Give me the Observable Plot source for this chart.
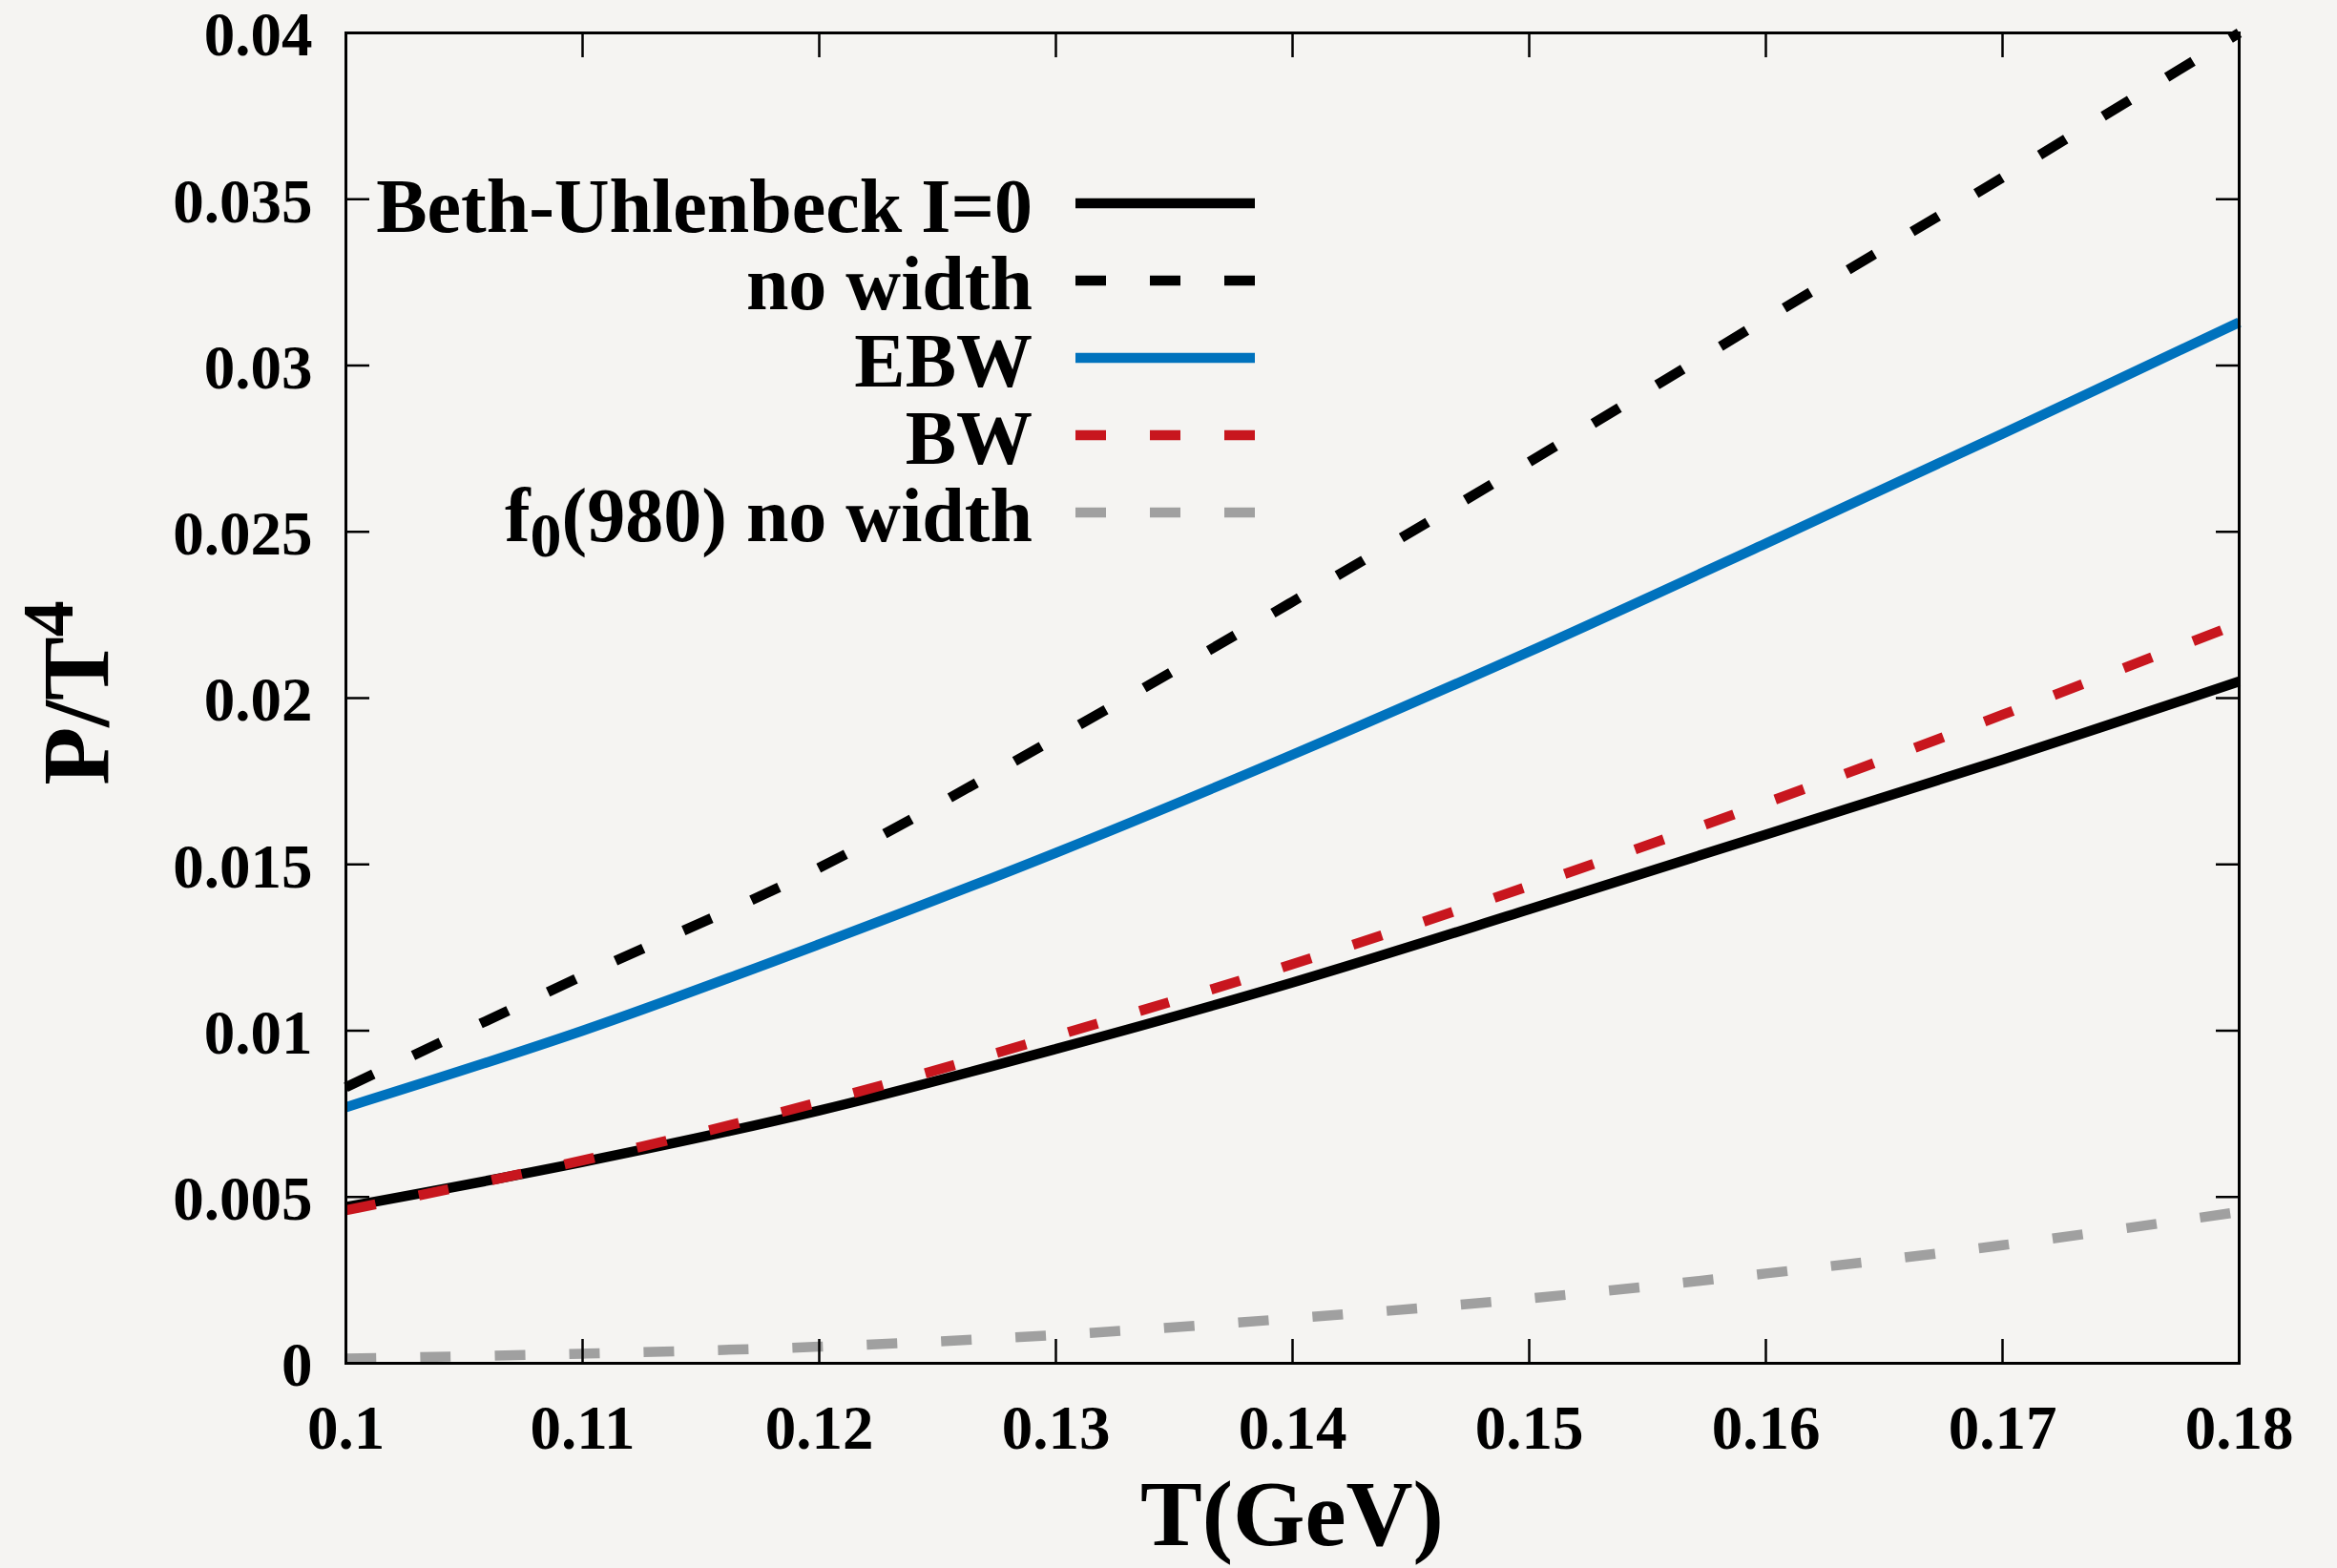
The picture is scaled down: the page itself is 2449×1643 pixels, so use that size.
<!DOCTYPE html>
<html>
<head>
<meta charset="utf-8">
<script src="https://cdn.jsdelivr.net/npm/d3@7"></script>
<script src="https://cdn.jsdelivr.net/npm/@observablehq/plot@0.6"></script>
<style>
  html, body { margin: 0; padding: 0; background: #f5f4f2; }
  #chart { width: 2449px; height: 1643px; }
  svg text { font-family: "Liberation Serif", "Times New Roman", serif; font-weight: bold; }
</style>
</head>
<body>
<div id="chart"></div>
<script>
// ---- data ----
const T = [0.10, 0.11, 0.12, 0.13, 0.14, 0.15, 0.16, 0.17, 0.18];
const bethUhlenbeck = [0.00470, 0.00605, 0.00760, 0.00945, 0.01145, 0.01365, 0.01590, 0.01815, 0.02050];
const noWidth       = [0.00830, 0.01165, 0.01490, 0.01880, 0.02290, 0.02710, 0.03140, 0.03565, 0.04000];
const ebw           = [0.00770, 0.01000, 0.01260, 0.01535, 0.01830, 0.02140, 0.02465, 0.02795, 0.03130];
const bw            = [0.00460, 0.00610, 0.00785, 0.00985, 0.01200, 0.01435, 0.01685, 0.01950, 0.02225];
const f0NoWidth     = [0.00014, 0.00029, 0.00050, 0.00085, 0.00135, 0.00195, 0.00270, 0.00355, 0.00455];

const seriesNames = ["Beth-Uhlenbeck I=0", "no width", "EBW", "BW", "f0(980) no width"];
const seriesColors = ["#000000", "#000000", "#0072bd", "#c8161e", "#a0a0a0"];
const seriesDashed = [false, true, false, true, true];

const xTicks = [0.10, 0.11, 0.12, 0.13, 0.14, 0.15, 0.16, 0.17, 0.18];
const xTickLabels = ["0.1", "0.11", "0.12", "0.13", "0.14", "0.15", "0.16", "0.17", "0.18"];
const yTicks = [0, 0.005, 0.01, 0.015, 0.02, 0.025, 0.03, 0.035, 0.04];
const yTickLabels = ["0", "0.005", "0.01", "0.015", "0.02", "0.025", "0.03", "0.035", "0.04"];

const xLabel = "T(GeV)";
const yLabelMain = "P/T";
const yLabelSup = "4";

// ---- build table ----
const seriesValues = [bethUhlenbeck, noWidth, ebw, bw, f0NoWidth];
const rows = [];
seriesNames.forEach((name, s) => {
  T.forEach((t, i) => rows.push({series: name, T: t, v: seriesValues[s][i]}));
});

const W = 2449, H = 1643;
const mL = 362, mR = 103, mT = 34, mB = 215;
const DASH = "32,46";
const LW = 10.5;

const lineMarks = seriesNames.map((name, s) =>
  Plot.line(rows.filter(r => r.series === name), {
    x: "T", y: "v",
    stroke: seriesColors[s],
    strokeWidth: LW,
    strokeDasharray: seriesDashed[s] ? DASH : null,
    strokeLinecap: "butt",
    strokeLinejoin: "round",
    curve: "catmull-rom"
  })
);

const fmtX = d => xTickLabels[xTicks.indexOf(d)];
const fmtY = d => yTickLabels[yTicks.indexOf(d)];

const chart = Plot.plot({
  width: W, height: H,
  marginLeft: mL, marginRight: mR, marginTop: mT, marginBottom: mB,
  style: {background: "transparent", fontFamily: "Liberation Serif", fontWeight: "bold", color: "black"},
  x: {domain: [0.1, 0.18]},
  y: {domain: [0, 0.04]},
  marks: [
    ...lineMarks,
    // inward ticks on all four sides
    Plot.axisY(yTicks, {anchor: "left", tickSize: 25, dx: 25, fill: "none", label: null, strokeWidth: 2.5}),
    Plot.axisY(yTicks, {anchor: "right", tickSize: 25, dx: -25, fill: "none", label: null, strokeWidth: 2.5}),
    Plot.axisX(xTicks, {anchor: "bottom", tickSize: 25, dy: -25, fill: "none", label: null, strokeWidth: 2.5}),
    Plot.axisX(xTicks, {anchor: "top", tickSize: 25, dy: 25, fill: "none", label: null, strokeWidth: 2.5}),
    // tick labels
    Plot.axisY(yTicks, {anchor: "left", tickSize: 0, tickPadding: 35, dy: 3, tickFormat: fmtY, label: null, fontSize: 65, fontWeight: "bold", fill: "black"}),
    Plot.axisX(xTicks, {anchor: "bottom", tickSize: 0, tickPadding: 43, tickFormat: fmtX, label: null, fontSize: 65, fontWeight: "bold", fill: "black"}),
    Plot.frame({stroke: "black", strokeWidth: 3})
  ]
});

document.getElementById("chart").appendChild(chart);

// ---- axis titles and legend ----
const svg = d3.select(chart);
const plotCX = mL + (W - mL - mR) / 2;

svg.append("text")
  .attr("x", plotCX).attr("y", 1619)
  .attr("text-anchor", "middle")
  .attr("font-size", 97)
  .attr("fill", "black")
  .text(xLabel);

const yl = svg.append("text")
  .attr("transform", `translate(113,726) rotate(-90)`)
  .attr("text-anchor", "middle")
  .attr("font-size", 100)
  .attr("fill", "black");
yl.append("tspan").text(yLabelMain);
yl.append("tspan").attr("font-size", 76).attr("dy", -37).text(yLabelSup);

const legX1 = 1127, legX2 = 1315, legTextX = 1082, legY0 = 213, legStep = 81;
const leg = svg.append("g");
seriesNames.forEach((name, s) => {
  const y = legY0 + legStep * s;
  leg.append("line")
    .attr("x1", legX1).attr("x2", legX2).attr("y1", y).attr("y2", y)
    .attr("stroke", seriesColors[s]).attr("stroke-width", LW)
    .attr("stroke-dasharray", seriesDashed[s] ? DASH : null);
  const t = leg.append("text")
    .attr("x", legTextX).attr("y", y + 30)
    .attr("text-anchor", "end")
    .attr("font-size", 80)
    .attr("fill", "black");
  if (name.startsWith("f0")) {
    t.append("tspan").text("f");
    t.append("tspan").attr("font-size", 66).attr("dy", 16).text("0");
    t.append("tspan").attr("dy", -16).text(name.slice(2));
  } else {
    t.text(name);
  }
});
</script>
</body>
</html>
